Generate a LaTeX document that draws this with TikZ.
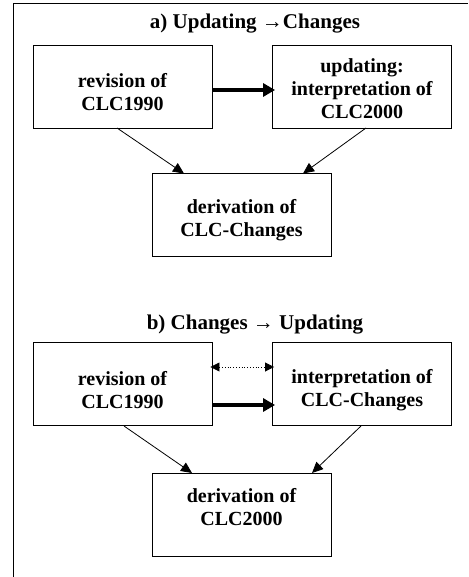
\documentclass[tikz,border=0pt]{standalone}
\usepackage{fontspec}
\setmainfont{Liberation Serif}
\usetikzlibrary{arrows.meta}
\begin{document}
\begin{tikzpicture}[x=1pt,y=-1pt,
  box/.style={draw,line width=0.9pt,minimum width=179pt,minimum height=83pt,inner sep=0pt},
  lbl/.style={inner sep=0pt,align=center,font=\fontsize{20}{23}\selectfont\bfseries},
  ttl/.style={font=\fontsize{21}{24}\selectfont\bfseries,inner sep=0pt},
  thin/.style={line width=0.8pt,-{Triangle[length=11pt,width=10pt]}},
  thick/.style={line width=4pt,-{Triangle[length=12pt,width=13pt]}},
  dotarr/.style={line width=0.8pt,dotted,{Triangle[length=9pt,width=9pt]}-{Triangle[length=9pt,width=9pt]}}
]
\useasboundingbox (0,0) rectangle (468,577);
\draw[line width=1pt] (13,577) -- (13,4) -- (468,4);

\node[ttl] (ta) at (255,24) {a) Updating →Changes};
\node[box] (a1) at (122.5,86.5) {};
\node[lbl] (a1t) at (122.5,92) {revision of\\CLC1990};
\node[box] (a2) at (362,86.5) {};
\node[lbl] (a2t) at (362,88.5) {updating:\\interpretation of\\CLC2000};
\node[box] (a3) at (241.5,215) {};
\node[lbl] (a3t) at (241.5,220) {derivation of\\CLC-Changes};
\draw[thick] (a1.east |- 0,90) -- ([xshift=3pt]a2.west |- 0,90);
\draw[thin] (117,128) -- (184,173.5);
\draw[thin] (366,128) -- (303,173.5);

\node[ttl] (tb) at (255,325) {b) Changes → Updating};
\node[box] (b1) at (122.5,384) {};
\node[lbl] (b1t) at (122.5,390) {revision of\\CLC1990};
\node[box] (b2) at (362,384) {};
\node[lbl] (b2t) at (362,390) {interpretation of\\CLC-Changes};
\node[box] (b3) at (241.5,514.5) {};
\node[lbl] (b3t) at (241.5,507) {derivation of\\CLC2000};
\draw[dotarr] ([xshift=-2pt]b1.east |- 0,367) -- ([xshift=2pt]b2.west |- 0,367);
\draw[thick] (b1.east |- 0,405) -- ([xshift=3pt]b2.west |- 0,405);
\draw[thin] (124,426) -- (192,473);
\draw[thin] (361,426) -- (312,473);
\end{tikzpicture}
\end{document}
